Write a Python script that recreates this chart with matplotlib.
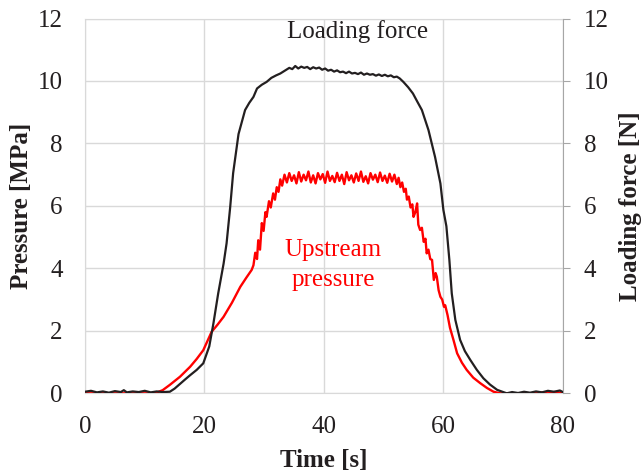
import matplotlib
matplotlib.use("Agg")
import matplotlib.pyplot as plt

plt.rcParams['font.family'] = ['Liberation Serif', 'DejaVu Serif']

# upstream pressure [MPa] as (time, value)
red_pts = [
    (0, 0), (5, 0), (10, 0), (11.7, 0), (13, 0.1), (14.2, 0.27), (15.9, 0.53), (17.6, 0.85),
    (18.7, 1.1), (19.8, 1.38), (21.2, 1.97), (22.2, 2.2), (23.2, 2.45), (24.6, 2.9), (26.0, 3.41),
    (27.0, 3.7), (27.9, 3.95),
    (28.2, 4.1), (28.5, 4.5), (28.8, 4.3), (29.0, 4.9), (29.3, 4.6), (29.6, 5.45), (29.9, 5.2),
    (30.2, 5.8), (30.4, 5.65), (30.8, 6.15), (31.1, 5.95), (31.5, 6.4), (31.8, 6.2), (32.1, 6.6),
    (32.4, 6.45), (32.7, 6.85), (33.0, 6.65),
    (33.4, 7.0), (33.8, 6.75), (34.2, 7.05), (34.6, 6.8), (35.0, 6.98), (35.4, 6.72), (35.8, 7.08),
    (36.2, 6.78), (36.6, 7.0), (37.0, 6.82), (37.4, 7.1), (37.8, 6.75), (38.2, 6.98), (38.6, 6.72),
    (39.0, 7.05), (39.4, 6.85), (39.8, 7.02), (40.2, 6.74), (40.6, 7.1), (41.0, 6.8), (41.4, 6.96),
    (41.8, 6.76), (42.2, 7.06), (42.6, 6.8), (43.0, 7.0), (43.4, 6.7), (43.8, 7.08), (44.2, 6.82),
    (44.6, 6.98), (45.0, 6.75), (45.4, 7.04), (45.8, 6.8), (46.2, 7.1), (46.6, 6.77), (47.0, 6.95),
    (47.4, 6.72), (47.8, 7.05), (48.2, 6.84), (48.6, 7.0), (49.0, 6.76), (49.4, 7.07), (49.8, 6.8),
    (50.2, 6.97), (50.6, 6.74), (51.0, 7.03), (51.4, 6.78), (51.8, 7.0), (52.2, 6.7),
    (52.5, 6.9), (52.8, 6.6), (53.1, 6.75), (53.4, 6.45), (53.7, 6.55), (53.9, 6.2), (54.2, 6.3),
    (54.5, 5.95), (54.8, 6.05), (55.0, 5.65), (55.3, 5.8), (55.6, 6.08), (55.8, 5.4), (56.1, 5.23),
    (56.4, 5.3), (56.7, 4.85), (57.0, 4.95), (57.2, 4.48), (57.5, 4.6), (57.8, 4.3), (58.1, 4.27),
    (58.4, 3.63), (58.7, 3.85), (58.9, 3.73), (59.2, 3.3), (59.5, 3.09), (59.8, 3.0), (60.1, 2.77),
    (60.3, 2.82), (60.7, 2.5), (61.1, 2.1), (61.7, 1.7), (62.3, 1.28), (63.1, 0.98), (63.9, 0.75),
    (65.0, 0.5), (66.2, 0.32), (67.3, 0.17), (68.4, 0.05), (69.5, 0), (72, 0), (75, 0),
    (76.5, 0.03), (77.5, 0), (78.5, 0.04), (80, 0.02),
]

# loading force [N] as (time, value)
blk_pts = [
    (0, 0.05), (1, 0.08), (2, 0.03), (3, 0.06), (4, 0.02), (5, 0.07), (6, 0.04), (6.5, 0.1),
    (7, 0.03), (8, 0.06), (9, 0.04), (10, 0.08), (11, 0.03), (12, 0.06), (13, 0.04), (14.2, 0.05),
    (15.0, 0.15), (15.9, 0.3), (16.8, 0.45), (17.6, 0.58), (18.7, 0.75), (19.8, 0.96), (20.8, 1.5),
    (21.5, 2.24), (22.3, 3.2), (23.2, 4.15), (23.7, 4.8), (24.3, 5.95), (24.8, 7.05), (25.7, 8.3),
    (26.8, 9.07), (27.5, 9.3), (28.2, 9.49), (28.8, 9.76), (29.6, 9.88), (30.4, 9.97), (31.2, 10.1),
    (32.0, 10.18), (32.7, 10.24), (33.2, 10.3), (33.7, 10.36), (34.2, 10.42), (34.7, 10.38),
    (35.2, 10.48), (35.7, 10.4), (36.2, 10.46), (36.7, 10.42), (37.2, 10.45), (37.7, 10.38),
    (38.2, 10.44), (38.7, 10.4), (39.2, 10.43), (39.7, 10.36), (40.2, 10.4), (40.7, 10.33),
    (41.2, 10.36), (41.7, 10.3), (42.2, 10.34), (42.7, 10.28), (43.2, 10.3), (43.7, 10.25),
    (44.2, 10.3), (44.7, 10.24), (45.2, 10.26), (45.7, 10.22), (46.2, 10.27), (46.7, 10.2),
    (47.2, 10.24), (47.7, 10.2), (48.2, 10.22), (48.7, 10.17), (49.2, 10.21), (49.7, 10.16),
    (50.2, 10.2), (50.7, 10.15), (51.2, 10.18), (51.7, 10.12), (52.2, 10.14), (52.7, 10.08),
    (53.3, 9.97), (54.1, 9.8), (54.9, 9.6), (55.6, 9.35), (56.4, 9.07), (57.5, 8.43), (58.6, 7.57),
    (59.5, 6.72), (60.0, 5.87), (60.5, 5.35), (61.0, 4.27), (61.4, 3.2), (62.0, 2.35), (62.8, 1.71),
    (63.6, 1.35), (64.5, 1.07), (65.6, 0.75), (66.7, 0.48), (67.8, 0.28), (69.0, 0.11), (70.6, 0.0),
    (71.5, 0.04), (72.5, 0.01), (73.5, 0.05), (74.5, 0.02), (75.5, 0.06), (76.5, 0.03), (77.5, 0.08),
    (78.5, 0.05), (79.5, 0.09), (80, 0.04),
]

xticks = [0, 20, 40, 60, 80]
yticks = [0, 2, 4, 6, 8, 10, 12]

red_t, red_p = zip(*red_pts)
blk_t, blk_f = zip(*blk_pts)

txt = '#231f20'
grid = '#d9d9d9'

fig = plt.figure(figsize=(6.44, 4.75), dpi=100)
ax = fig.add_axes([0.132, 0.172, 0.742, 0.789])
ax2 = ax.twinx()

ax.plot(red_t, red_p, color='#ff0000', lw=1.7, zorder=3)
ax2.plot(blk_t, blk_f, color=txt, lw=1.6, zorder=3)

for a in (ax, ax2):
    a.set_xlim(0, 80)
    a.set_ylim(0, 12)
    a.set_yticks(yticks)
ax.set_xticks(xticks)
ax.grid(True, color=grid, lw=1)
ax.set_axisbelow(True)

for s in ['left', 'bottom', 'top']:
    ax.spines[s].set_color(grid)
    ax2.spines[s].set_visible(False)
ax.spines['right'].set_visible(False)
ax2.spines['right'].set_color('#a6a6a6')

ax.tick_params(axis='x', length=0, pad=16, labelsize=18, labelcolor=txt)
ax.tick_params(axis='y', length=0, pad=16, labelsize=18, labelcolor=txt)
ax2.tick_params(axis='y', length=5, color='#a6a6a6', pad=10, labelsize=18, labelcolor=txt)

ax.set_xlabel('Time [s]', fontsize=18, fontweight='bold', color=txt)
ax.set_ylabel('Pressure [MPa]', fontsize=18, fontweight='bold', color=txt)
ax2.set_ylabel('Loading force [N]', fontsize=18, fontweight='bold', color=txt)
ax.xaxis.set_label_coords(0.5, -0.148)
ax.yaxis.set_label_coords(-0.108, 0.5)
ax2.yaxis.set_label_coords(1.117, 0.5)

ax2.text(45.7, 11.6, 'Loading force', fontsize=18, color=txt, ha='center', va='center')
ax.text(41.5, 4.1, 'Upstream\npressure', fontsize=18, color='#ff0000', ha='center', va='center',
        linespacing=1.45)

fig.savefig('out.png', dpi=100)
